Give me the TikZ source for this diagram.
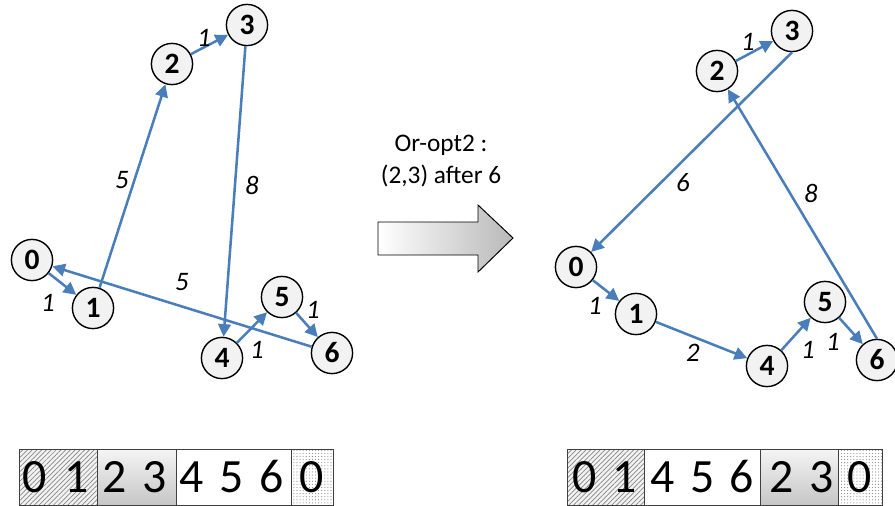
\documentclass[tikz,border=0pt]{standalone}
\usepackage{fontspec}
\setmainfont{Carlito}
\usepackage{tikz}
\usetikzlibrary{patterns,patterns.meta}
\usetikzlibrary{shapes,arrows,arrows.meta}
\usetikzlibrary{positioning}
\definecolor{edgeblue}{HTML}{4A7EBB}
\definecolor{cityfill}{HTML}{F2F2F2}
\tikzstyle{city} = [circle, draw, line width=1pt, fill=cityfill,
    minimum size=1.03cm, inner sep=0pt, font=\fontsize{21}{24}\selectfont\bfseries]
\tikzstyle{line} = [draw, edgeblue, line width=1.8pt, -{Triangle[length=9pt,width=9pt]}]
\tikzstyle{cost} = [text=black, font=\fontsize{19}{22}\selectfont\itshape, inner sep=0pt]
\tikzstyle{digit} = [font=\fontsize{34}{36}\selectfont, inner sep=0pt]
\tikzstyle{group} = [draw=black!75, line width=0.6pt]
\tikzstyle{hatched} = [pattern={Lines[angle=45,distance=2.4pt,line width=0.5pt]}, pattern color=gray!95]
\tikzstyle{dotted cell} = [pattern={Dots[distance=2.2pt,radius=0.4pt]}, pattern color=gray!95]
\tikzstyle{shaded cell} = [top color=gray!8, bottom color=gray!45]

\begin{document}
\begin{tikzpicture}[x=0.025cm,y=-0.025cm]
    \useasboundingbox (0,0) rectangle (895,506);
    % Place nodes: tour before the move
    \node[city] (old0) at (32,260) {0};
    \node[city] (old1) at (93,308) {1};
    \node[city] (old2) at (172,64) {2};
    \node[city] (old3) at (247,25) {3};
    \node[city] (old4) at (222,358) {4};
    \node[city] (old5) at (282,297) {5};
    \node[city] (old6) at (332,353) {6};
    % Place nodes: tour after the move
    \node[city] (new0) at (576,267) {0};
    \node[city] (new1) at (636,314) {1};
    \node[city] (new2) at (717,71) {2};
    \node[city] (new3) at (792,31) {3};
    \node[city] (new4) at (767,366) {4};
    \node[city] (new5) at (825,302) {5};
    \node[city] (new6) at (877,360) {6};
    % Draw edges: tour before the move
    \path [line] (old0) -- (old1) node[cost] at (48,303) {1};
    \path [line] (old1) -- (old2) node[cost] at (122,180) {5};
    \path [line] (old2) -- (old3) node[cost] at (204,38) {1};
    \path [line] (old3) -- (old4) node[cost] at (252,185) {8};
    \path [line] (old4) -- (old5) node[cost] at (257,350) {1};
    \path [line] (old5) -- (old6) node[cost] at (313,310) {1};
    \path [line] (old6) -- (old0) node[cost] at (182,282) {5};
    % Draw edges: tour after the move
    \path [line] (new0) -- (new1) node[cost] at (595,306) {1};
    \path [line] (new1) -- (new4) node[cost] at (693,353) {2};
    \path [line] (new4) -- (new5) node[cost] at (808,350) {1};
    \path [line] (new5) -- (new6) node[cost] at (833,342) {1};
    \path [line] (new6.north) -- (new2) node[cost] at (811,193) {8};
    \path [line] (new2) -- (new3) node[cost] at (748,42) {1};
    \path [line] (new3.south) -- (new0) node[cost] at (683,183) {6};
    % The move
    \node[align=center, font=\fontsize{18}{23}\selectfont] (move) at (441,161) {Or-opt2 :\\(2,3) after 6};
    \draw[black, line width=0.7pt, left color=white, right color=gray!55]
        (378,222) -- (478,222) -- (478,205) -- (513,238) -- (478,272) -- (478,255) -- (378,255) -- cycle;
    % Tour arrays
    \fill[gray!10] (19,449) rectangle (97,505);
    \path[hatched] (19,449) rectangle (97,505);
    \draw[group] (19,449) rectangle (97,505);
    \draw[group, shaded cell] (97,449) rectangle (176,505);
    \draw[group, fill=white] (176,449) rectangle (291,505);
    \path[dotted cell] (291,449) rectangle (333,505);
    \draw[group] (291,449) rectangle (333,505);
    \foreach \x/\d [count=\i] in {35/0,77/1,115/2,155/3,192/4,232/5,272/6,312/0}
        \node[digit] (olddigit\i) at (\x,477) {\d};
    \fill[gray!10] (567,449) rectangle (644,505);
    \path[hatched] (567,449) rectangle (644,505);
    \draw[group] (567,449) rectangle (644,505);
    \draw[group, fill=white] (644,449) rectangle (760,505);
    \draw[group, shaded cell] (760,449) rectangle (838,505);
    \path[dotted cell] (838,449) rectangle (882,505);
    \draw[group] (838,449) rectangle (882,505);
    \foreach \x/\d [count=\i] in {585/0,625/1,663/4,703/5,742/6,782/2,822/3,860/0}
        \node[digit] (newdigit\i) at (\x,477) {\d};
\end{tikzpicture}
\end{document}
